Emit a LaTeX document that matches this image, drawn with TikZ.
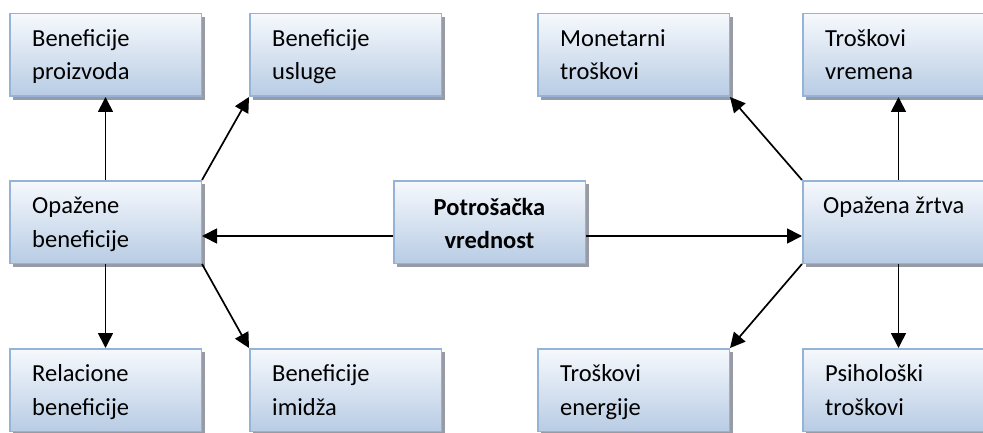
\documentclass[tikz,border=0pt]{standalone}
\usepackage{fontspec}
\setmainfont{Carlito}
\usetikzlibrary{arrows.meta,shadows}

\definecolor{boxborder}{RGB}{149,179,215}
\definecolor{boxtop}{RGB}{246,249,253}
\definecolor{boxbottom}{RGB}{184,204,228}
\definecolor{shadowgray}{RGB}{150,155,165}

\tikzset{
  valuebox/.style={
    draw=boxborder, line width=1.5pt,
    top color=boxtop, bottom color=boxbottom,
    minimum width=191.5pt, minimum height=82.5pt,
    inner sep=0pt, anchor=north west,
    drop shadow={shadow xshift=3.5pt, shadow yshift=-3.5pt,
                 fill=shadowgray, opacity=1}
  },
  boxtext/.style={inner sep=0pt, anchor=base west,
    font=\fontsize{24.5}{33.5}\selectfont},
  linkarrow/.style={line width=1.7pt, black,
    -{Triangle[length=15pt,width=15pt]}}
}

\newcommand\valuenode[4]{%
  \node[valuebox] (#1) at (#2) {};
  \node[boxtext] (#1-t) at ([xshift=23pt,yshift=-33.5pt]#1.north west)
    {\parbox[t]{160pt}{\raggedright #3\\#4}};
}

\begin{document}
\begin{tikzpicture}[x=1pt,y=1pt]
  \useasboundingbox (0,0) rectangle (983,432);
  \clip (0,0) rectangle (983,432);

  % top row
  \valuenode{bp}{9,419}{Beneficije}{proizvoda}
  \valuenode{bu}{249,419}{Beneficije}{usluge}
  \valuenode{mt}{537,419}{Monetarni}{troškovi}
  \valuenode{tv}{802,419}{Troškovi}{vremena}

  % middle row
  \valuenode{ob}{9,252}{Opažene}{beneficije}
  \node[valuebox] (pv) at (393,252) {};
  \node[boxtext, anchor=base] (pv-t) at ([yshift=-35pt]pv.north)
    {\parbox[t]{180pt}{\centering\bfseries Potrošačka\\vrednost}};
  \node[valuebox] (oz) at (802,252) {};
  \node[boxtext] (oz-t) at ([xshift=21pt,yshift=-33.5pt]oz.north west)
    {Opažena žrtva};

  % bottom row
  \valuenode{rb}{9,84}{Relacione}{beneficije}
  \valuenode{bi}{249,84}{Beneficije}{imidža}
  \valuenode{te}{537,84}{Troškovi}{energije}
  \valuenode{pt}{802,84}{Psihološki}{troškovi}

  % perceived benefits
  \draw[linkarrow] ([yshift=-14pt]pv.west) -- ([yshift=-14pt]ob.east);
  \draw[linkarrow] (ob.north) -- (bp.south);
  \draw[linkarrow] (ob.north east) -- (bu.south west);
  \draw[linkarrow] (ob.south) -- (rb.north);
  \draw[linkarrow] (ob.south east) -- (bi.north west);

  % perceived sacrifice
  \draw[linkarrow] ([yshift=-14pt]pv.east) -- ([yshift=-14pt]oz.west);
  \draw[linkarrow] (oz.north) -- (tv.south);
  \draw[linkarrow] (oz.north west) -- (mt.south east);
  \draw[linkarrow] (oz.south) -- (pt.north);
  \draw[linkarrow] (oz.south west) -- (te.north east);
\end{tikzpicture}
\end{document}
